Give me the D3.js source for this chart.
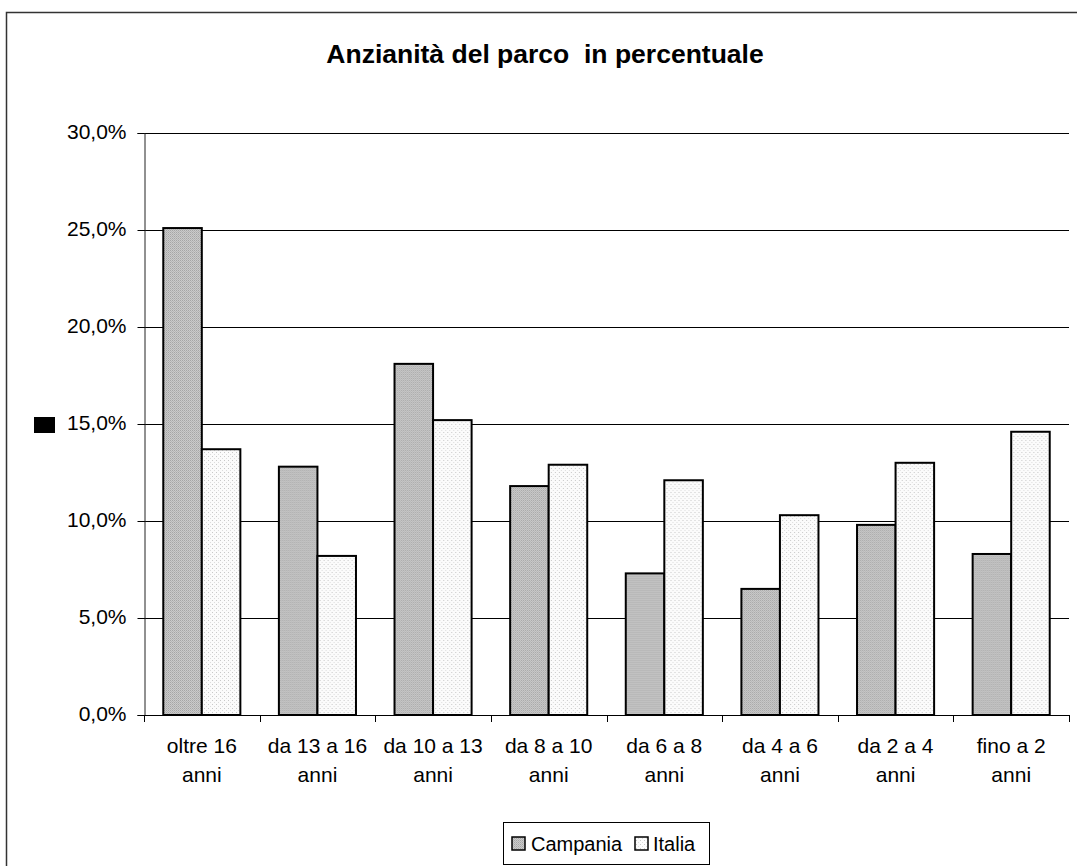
<!DOCTYPE html>
<html>
<head>
<meta charset="utf-8">
<script src="https://cdn.jsdelivr.net/npm/d3@7"></script>
<style>
  html, body { margin: 0; padding: 0; background: #fff; }
  svg { display: block; font-family: "Liberation Sans", Arial, sans-serif; }
</style>
</head>
<body>
<svg id="chart" width="1077" height="866"></svg>
<script>
// Age classes of the vehicle fleet (two-line axis labels)
const categories = [
  ["oltre 16", "anni"],
  ["da 13 a 16", "anni"],
  ["da 10 a 13", "anni"],
  ["da 8 a 10", "anni"],
  ["da 6 a 8", "anni"],
  ["da 4 a 6", "anni"],
  ["da 2 a 4", "anni"],
  ["fino a 2", "anni"]
];
const seriesNames = ["Campania", "Italia"];
// Share of the fleet, in percent
const campania = [25.1, 12.8, 18.1, 11.8, 7.3, 6.5, 9.8, 8.3];
const italia   = [13.7,  8.2, 15.2, 12.9, 12.1, 10.3, 13.0, 14.6];
const yTicks = [0, 5, 10, 15, 20, 25, 30];
const titleText = "Anzianità del parco  in percentuale";

const svg = d3.select("#chart");
const margin = { left: 144, right: 1069, top: 133, bottom: 715 };

const itLocale = d3.formatLocale({ decimal: ",", thousands: ".", grouping: [3], currency: ["", "€"] });
const fmtPct = itLocale.format(".1%");

// Fill patterns for the two series
const defs = svg.append("defs");
const pc = defs.append("pattern").attr("id", "patCampania")
  .attr("patternUnits", "userSpaceOnUse").attr("width", 2).attr("height", 2);
pc.append("rect").attr("width", 2).attr("height", 2).attr("fill", "#cbcbcb");
pc.append("rect").attr("width", 1).attr("height", 1).attr("fill", "#a6a6a6");
pc.append("rect").attr("x", 1).attr("y", 1).attr("width", 1).attr("height", 1).attr("fill", "#b6b6b6");

const pi = defs.append("pattern").attr("id", "patItalia")
  .attr("patternUnits", "userSpaceOnUse").attr("width", 4).attr("height", 4);
pi.append("rect").attr("width", 4).attr("height", 4).attr("fill", "#fbfbfb");
pi.append("rect").attr("width", 1).attr("height", 1).attr("fill", "#c8c8c8");
pi.append("rect").attr("x", 2).attr("y", 2).attr("width", 1).attr("height", 1).attr("fill", "#dcdcdc");

const fills = { Campania: "url(#patCampania)", Italia: "url(#patItalia)" };

// Outer chart frame
svg.append("rect")
  .attr("x", 6.5).attr("y", 12.5).attr("width", 1100).attr("height", 900)
  .attr("fill", "none").attr("stroke", "#333").attr("stroke-width", 1.5);

// Title
svg.append("text")
  .attr("x", 545).attr("y", 63)
  .attr("text-anchor", "middle")
  .attr("font-weight", "bold").attr("font-size", 26.5)
  .style("white-space", "pre")
  .text(titleText);

const x0 = d3.scaleBand().domain(d3.range(categories.length))
  .range([margin.left, margin.right]).padding(0);
const x1 = d3.scaleBand().domain(seriesNames)
  .range([0, x0.bandwidth()]).paddingInner(0).paddingOuter(0.5);
const y = d3.scaleLinear().domain([0, 30]).range([margin.bottom, margin.top]);

// Horizontal gridlines
svg.append("g")
  .selectAll("line").data(yTicks.filter(d => d > 0)).join("line")
  .attr("x1", margin.left).attr("x2", margin.right)
  .attr("y1", d => Math.round(y(d)) + 0.5).attr("y2", d => Math.round(y(d)) + 0.5)
  .attr("stroke", "#000").attr("stroke-width", 1.2);

// Y axis
const yAxis = svg.append("g")
  .attr("transform", `translate(${margin.left + 0.5},0)`)
  .call(d3.axisLeft(y).tickValues(yTicks).tickSize(7).tickPadding(11)
    .tickFormat(d => fmtPct(d / 100)));
yAxis.select(".domain").attr("stroke", "#222");
yAxis.selectAll(".tick line").attr("stroke", "#000");
yAxis.selectAll(".tick text").attr("font-size", 21).attr("fill", "#000")
  .attr("font-family", "'Liberation Sans', Arial, sans-serif").attr("dy", "0.26em");

// Bars
const groups = svg.append("g").selectAll("g")
  .data(categories.map((c, i) => ({ i, values: [campania[i], italia[i]] })))
  .join("g")
  .attr("transform", d => `translate(${x0(d.i)},0)`);
groups.selectAll("rect")
  .data(d => d.values.map((v, k) => ({ key: seriesNames[k], v })))
  .join("rect")
  .attr("x", d => x1(d.key))
  .attr("y", d => y(d.v))
  .attr("width", x1.bandwidth())
  .attr("height", d => y(0) - y(d.v))
  .attr("fill", d => fills[d.key])
  .attr("stroke", "#000").attr("stroke-width", 2);

// X axis with ticks at category boundaries
const xg = svg.append("g");
xg.append("line")
  .attr("x1", margin.left).attr("x2", margin.right)
  .attr("y1", margin.bottom + 0.5).attr("y2", margin.bottom + 0.5)
  .attr("stroke", "#000");
const boundaries = d3.range(categories.length + 1).map(i =>
  i < categories.length ? x0(i) : x0(categories.length - 1) + x0.bandwidth());
xg.selectAll("line.tk").data(boundaries).join("line").attr("class", "tk")
  .attr("x1", d => Math.round(d) + 0.5).attr("x2", d => Math.round(d) + 0.5)
  .attr("y1", margin.bottom).attr("y2", margin.bottom + 7)
  .attr("stroke", "#000");
const lbl = xg.selectAll("text").data(categories).join("text")
  .attr("text-anchor", "middle").attr("font-size", 21)
  .attr("transform", (d, i) => `translate(${x0(i) + x0.bandwidth() / 2},753)`);
lbl.selectAll("tspan").data(d => d).join("tspan")
  .attr("x", 0).attr("dy", (d, j) => j === 0 ? 0 : 28.5)
  .text(d => d);

// Small black marker left of the value axis
svg.append("rect").attr("x", 34).attr("y", 417).attr("width", 21).attr("height", 16).attr("fill", "#000");

// Legend
const lg = svg.append("g");
lg.append("rect").attr("x", 503.5).attr("y", 822.5).attr("width", 206).attr("height", 42)
  .attr("fill", "#fff").attr("stroke", "#000").attr("stroke-width", 1);
const legendItems = [
  { key: "Campania", sx: 512, tx: 531 },
  { key: "Italia", sx: 635, tx: 653 }
];
legendItems.forEach(it => {
  lg.append("rect").attr("x", it.sx).attr("y", 837).attr("width", 13).attr("height", 13)
    .attr("fill", fills[it.key]).attr("stroke", "#000").attr("stroke-width", 1.5);
  lg.append("text").attr("x", it.tx).attr("y", 851).attr("font-size", 20).text(it.key);
});
</script>
</body>
</html>
